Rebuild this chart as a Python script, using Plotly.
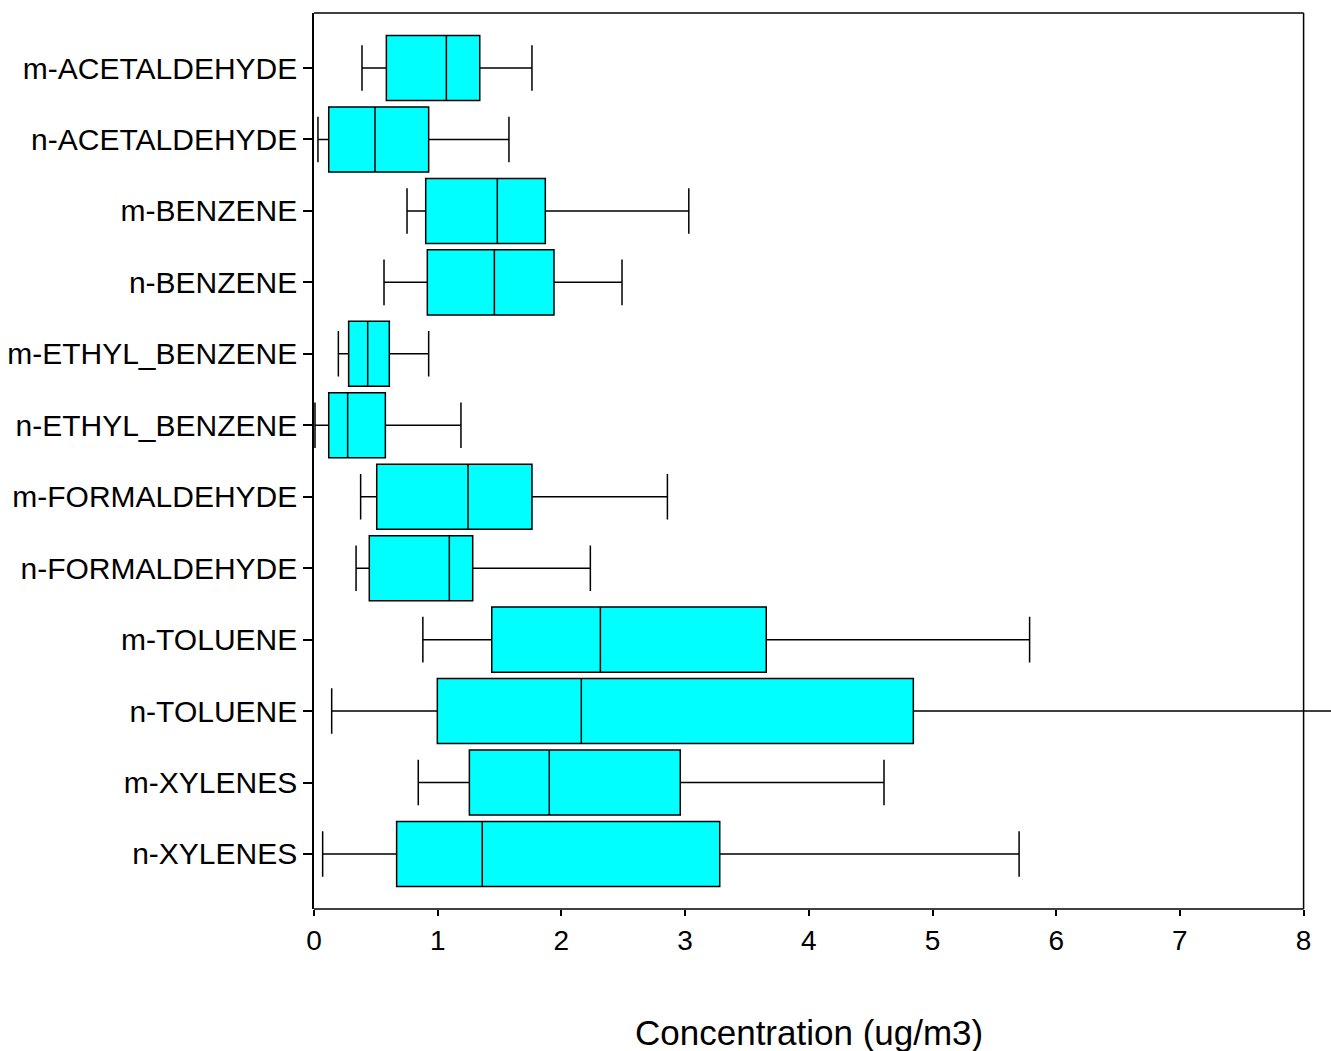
import plotly.graph_objects as go

categories = ["m-ACETALDEHYDE", "n-ACETALDEHYDE", "m-BENZENE", "n-BENZENE",
              "m-ETHYL_BENZENE", "n-ETHYL_BENZENE", "m-FORMALDEHYDE", "n-FORMALDEHYDE",
              "m-TOLUENE", "n-TOLUENE", "m-XYLENES", "n-XYLENES"]
lower_whisker = [0.388, 0.032, 0.752, 0.566, 0.197, 0.008, 0.377, 0.340, 0.880, 0.143, 0.843, 0.070]
q1_values     = [0.585, 0.119, 0.903, 0.916, 0.280, 0.119, 0.507, 0.447, 1.437, 0.997, 1.256, 0.668]
medians       = [1.070, 0.493, 1.482, 1.458, 0.434, 0.272, 1.245, 1.094, 2.315, 2.161, 1.902, 1.360]
q3_values     = [1.340, 0.927, 1.870, 1.940, 0.609, 0.577, 1.762, 1.283, 3.656, 4.845, 2.961, 3.280]
upper_whisker = [1.762, 1.576, 3.030, 2.490, 0.927, 1.188, 2.857, 2.234, 5.785, 8.500, 4.608, 5.700]
x_ticks = [0, 1, 2, 3, 4, 5, 6, 7, 8]
x_title = "Concentration (ug/m3)"

fig = go.Figure()
fig.add_trace(go.Box(
    y=categories, q1=q1_values, median=medians, q3=q3_values,
    lowerfence=lower_whisker, upperfence=upper_whisker,
    orientation="h", boxpoints=False,
    fillcolor="#00FFFF", line=dict(color="black", width=1.5),
    width=0.91, whiskerwidth=0.7, showlegend=False,
))

frame = dict(color="black", width=1.5)
fig.add_shape(type="line", xref="x", yref="paper", x0=0, x1=8, y0=1, y1=1, line=frame)
fig.add_shape(type="line", xref="x", yref="paper", x0=8, x1=8, y0=0, y1=1, line=frame)
fig.add_shape(type="line", xref="x", yref="paper", x0=0, x1=8, y0=0, y1=0, line=frame)

fig.add_annotation(text=x_title, xref="x", x=x_ticks[len(x_ticks) // 2], yref="paper", y=0,
                   yshift=-123, yanchor="middle", xanchor="center", showarrow=False,
                   font=dict(size=35))

fig.update_layout(
    width=1331, height=1051,
    margin=dict(l=314, r=0, t=13, b=142),
    paper_bgcolor="white", plot_bgcolor="white",
    font=dict(family="Liberation Sans, Arial, sans-serif", size=28, color="black"),
    xaxis=dict(range=[0, 8.2215], tickvals=x_ticks, ticks="outside", ticklen=6,
               tickwidth=1.5, tickcolor="black", showgrid=False, zeroline=False,
               showline=False, tickfont=dict(size=28)),
    yaxis=dict(type="category", categoryorder="array", categoryarray=categories,
               range=[11.77, -0.77], ticks="outside", ticklen=9, tickwidth=1.5,
               tickcolor="black", showgrid=False, zeroline=False,
               tickfont=dict(size=30),
               showline=True, linecolor="black", linewidth=1.5),
)

fig.write_html("out.html")
